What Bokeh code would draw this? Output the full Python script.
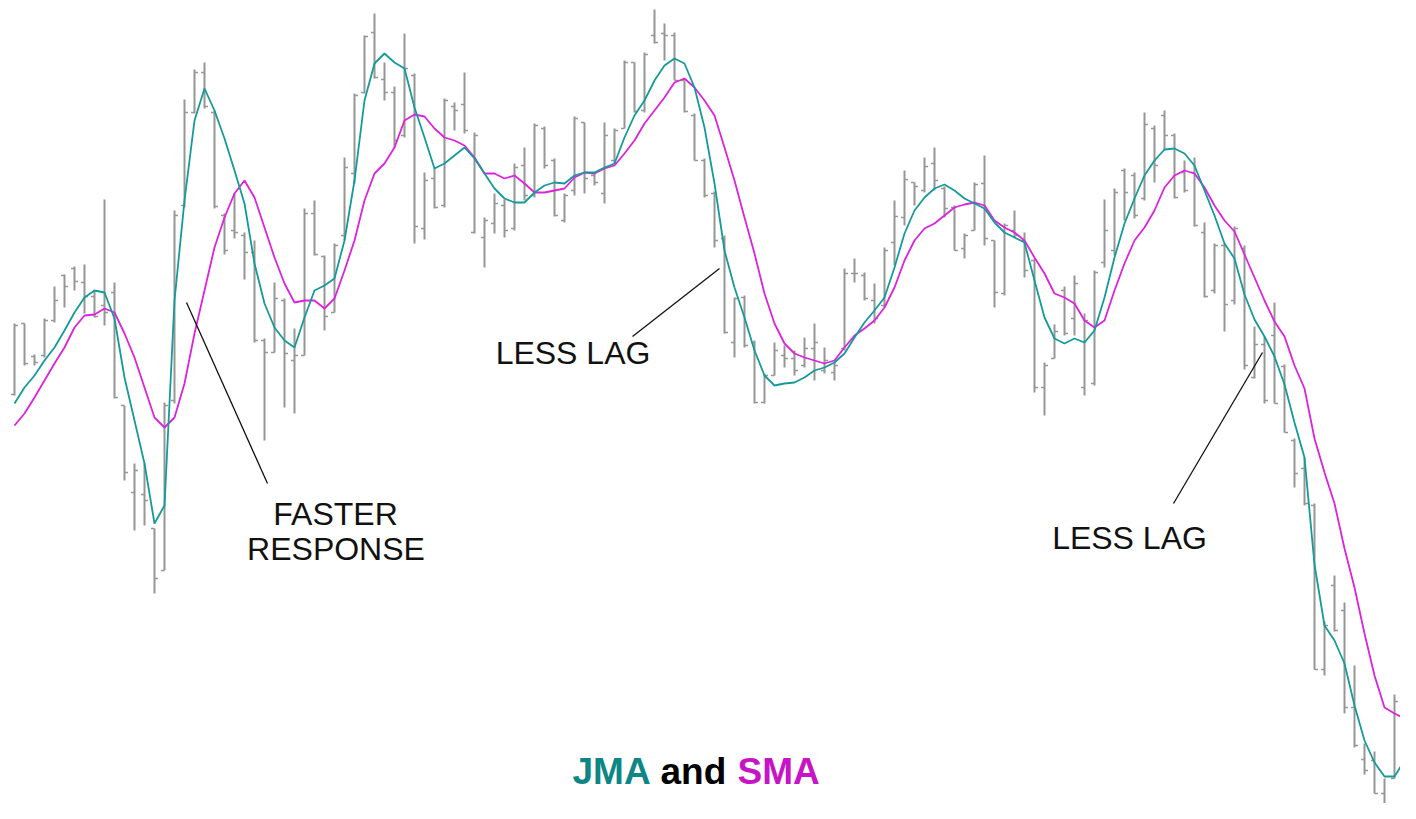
from bokeh.plotting import figure
from bokeh.models import ColumnDataSource, Range1d
from bokeh.core.properties import value
from bokeh.embed import file_html
from bokeh.resources import INLINE

# ---------------- data ----------------
open_ = [426, 497, 464, 465, 500, 545, 552, 538, 524, 515, 528, 415, 328, 326, 292, 250, 420, 615, 708, 748,
         708, 605, 590, 585, 568, 480, 468, 520, 460, 465, 607, 564, 508, 585, 647, 728, 788, 741, 728, 685,
         745, 592, 642, 615, 714, 716, 588, 583, 597, 615, 592, 655, 625, 692, 660, 600, 630, 698, 645, 627,
         660, 692, 758, 710, 785, 787, 785, 740, 705, 660, 627, 582, 478, 523, 478, 418, 445, 465, 462, 455,
         472, 450, 448, 472, 547, 545, 520, 515, 578, 603, 638, 630, 657, 632, 613, 572, 590, 637, 580, 527,
         590, 580, 560, 433, 462, 530, 502, 433, 437, 558, 570, 650, 645, 622, 692, 705, 685, 648, 648, 588,
         530, 575, 520, 572, 443, 476, 485, 454, 380, 352, 315, 151, 235, 210, 113, 61, 60, 27, 42, 121]
high = [497, 497, 466, 502, 534, 546, 554, 556, 530, 621, 538, 415, 357, 357, 292, 418, 610, 721, 751, 758,
        710, 607, 627, 588, 580, 482, 538, 522, 492, 612, 620, 565, 577, 663, 727, 785, 807, 758, 734, 787,
        747, 648, 653, 722, 718, 748, 688, 603, 627, 621, 657, 673, 697, 694, 662, 627, 704, 698, 648, 698,
        692, 760, 758, 768, 811, 797, 788, 740, 707, 662, 629, 585, 523, 525, 480, 447, 478, 475, 470, 483,
        497, 473, 458, 552, 562, 548, 537, 573, 620, 650, 638, 663, 673, 634, 615, 587, 638, 665, 580, 597,
        610, 588, 562, 458, 496, 534, 545, 507, 550, 621, 632, 652, 648, 708, 695, 710, 687, 660, 663, 598,
        577, 577, 594, 575, 494, 484, 518, 456, 382, 363, 317, 199, 245, 218, 155, 77, 69, 42, 126, 147]
low = [425, 455, 455, 463, 498, 513, 530, 507, 503, 495, 422, 340, 290, 295, 227, 250, 417, 613, 707, 712,
       612, 566, 582, 541, 478, 380, 468, 413, 407, 465, 565, 490, 508, 580, 637, 727, 742, 720, 673, 683,
       577, 581, 612, 613, 690, 687, 587, 553, 587, 583, 590, 620, 623, 652, 604, 598, 625, 627, 635, 617,
       657, 692, 708, 708, 777, 760, 740, 708, 660, 623, 573, 487, 463, 473, 417, 417, 445, 453, 445, 453,
       440, 447, 440, 470, 538, 520, 497, 513, 555, 595, 615, 628, 630, 603, 570, 562, 590, 575, 513, 525,
       583, 543, 428, 405, 462, 485, 485, 425, 435, 553, 565, 600, 602, 620, 638, 670, 622, 628, 594, 523,
       527, 489, 516, 451, 442, 417, 417, 388, 333, 315, 151, 145, 189, 107, 73, 46, 27, 2, 42, 111]
close = [495, 457, 458, 500, 520, 534, 539, 524, 504, 508, 423, 348, 350, 320, 242, 415, 605, 708, 748, 714,
         614, 570, 588, 568, 480, 468, 522, 467, 465, 607, 566, 504, 575, 653, 725, 784, 743, 728, 680, 752,
         594, 640, 613, 720, 710, 690, 685, 600, 617, 590, 653, 625, 695, 655, 605, 625, 702, 642, 638, 685,
         690, 758, 709, 766, 778, 785, 740, 709, 660, 625, 580, 488, 522, 475, 418, 445, 470, 462, 450, 472,
         478, 460, 455, 547, 547, 522, 502, 570, 604, 641, 634, 654, 640, 612, 570, 585, 636, 582, 528, 595,
         585, 550, 433, 455, 489, 487, 537, 500, 548, 590, 628, 628, 605, 696, 655, 685, 623, 630, 595, 524,
         575, 516, 592, 455, 476, 420, 417, 388, 347, 317, 151, 195, 190, 113, 75, 50, 27, 8, 119, 144]
jma = [417, 433, 445, 460, 473, 490, 508, 523, 530, 528, 502, 443, 400, 357, 297, 315, 520, 620, 700, 732,
       710, 682, 650, 617, 557, 517, 493, 480, 473, 503, 530, 535, 542, 580, 640, 720, 757, 767, 758, 752,
       713, 683, 652, 657, 665, 673, 662, 647, 632, 622, 618, 618, 628, 635, 638, 637, 645, 648, 648, 653,
       657, 683, 705, 720, 740, 755, 762, 757, 733, 693, 637, 570, 533, 503, 470, 445, 435, 437, 438, 443,
       450, 453, 458, 467, 483, 498, 510, 523, 553, 587, 610, 623, 632, 636, 630, 622, 617, 612, 598, 588,
       583, 578, 540, 503, 482, 477, 482, 478, 490, 523, 563, 597, 622, 645, 660, 671, 672, 667, 655, 630,
       605, 577, 562, 526, 501, 484, 464, 436, 398, 363, 256, 195, 180, 157, 115, 80, 58, 44, 44, 60]
sma = [395, 407, 423, 440, 457, 473, 493, 505, 506, 512, 508, 487, 463, 433, 403, 393, 403, 437, 487, 530,
       573, 603, 627, 640, 623, 593, 563, 537, 518, 520, 520, 512, 522, 550, 580, 620, 647, 657, 673, 700,
       706, 704, 692, 683, 680, 675, 663, 647, 647, 642, 645, 637, 628, 628, 630, 632, 643, 648, 647, 652,
       655, 667, 680, 697, 710, 723, 738, 742, 733, 720, 705, 673, 640, 603, 567, 527, 497, 477, 467, 463,
       460, 457, 460, 473, 485, 492, 500, 513, 533, 560, 580, 592, 597, 605, 613, 616, 618, 615, 600, 593,
       588, 580, 563, 547, 527, 523, 517, 500, 493, 500, 530, 557, 580, 593, 610, 633, 645, 650, 647, 633,
       615, 600, 589, 566, 543, 520, 499, 484, 455, 432, 382, 348, 317, 272, 233, 187, 145, 113, 107, 102]
bar_index = list(range(len(close)))

# annotation texts and anchor points (data units)
notes = ["FASTER", "RESPONSE", "LESS LAG", "LESS LAG"]
note_x = [32.1, 32.15, 55.85, 111.5]
note_y = [307, 272, 468, 283]
lead_x0 = [17.2, 61.8, 115.9]
lead_y0 = [518, 484, 317]
lead_x1 = [25.3, 70.5, 124.8]
lead_y1 = [337, 552, 468]
title_parts = ["JMA", "and", "SMA"]
title_x = [55.8, 64.6, 72.3]
title_y = [49, 49, 49]
title_colors = ["#0e8686", "#000000", "#c614c6"]

# ---------------- figure ----------------
p = figure(width=1400, height=803, output_backend="svg", toolbar_location=None,
           x_range=Range1d(-1.4, 138.6), y_range=Range1d(17, 820), min_border=0)
p.axis.visible = False
p.grid.visible = False
p.outline_line_color = None
p.background_fill_color = "white"
p.border_fill_color = "white"

src = ColumnDataSource(dict(
    x=bar_index,
    xl=[i - 0.35 for i in bar_index],
    xr=[i + 0.35 for i in bar_index],
    o=open_, h=high, l=low, c=close, jma=jma, sma=sma))

bar_col = "#969696"
p.segment(x0="x", y0="l", x1="x", y1="h", source=src, line_color=bar_col, line_width=2)
p.segment(x0="xl", y0="o", x1="x", y1="o", source=src, line_color=bar_col, line_width=1.5)
p.segment(x0="x", y0="c", x1="xr", y1="c", source=src, line_color=bar_col, line_width=1.5)

p.line("x", "sma", source=src, line_color="#dd22dd", line_width=1.8)
p.line("x", "jma", source=src, line_color="#159a9a", line_width=1.8)

p.segment(x0=lead_x0, y0=lead_y0, x1=lead_x1, y1=lead_y1, line_color="#111111", line_width=1.3)

p.text(x=note_x, y=note_y, text=notes, text_font=value("Liberation Sans"),
       text_font_size="32px", text_color="#111111", text_align="center", text_baseline="middle")

p.text(x=title_x, y=title_y, text=title_parts, text_font=value("Liberation Sans"),
       text_font_size="37px", text_font_style="bold", text_color=title_colors,
       text_align="left", text_baseline="middle")

open("out.html", "w").write(file_html(p, INLINE))
